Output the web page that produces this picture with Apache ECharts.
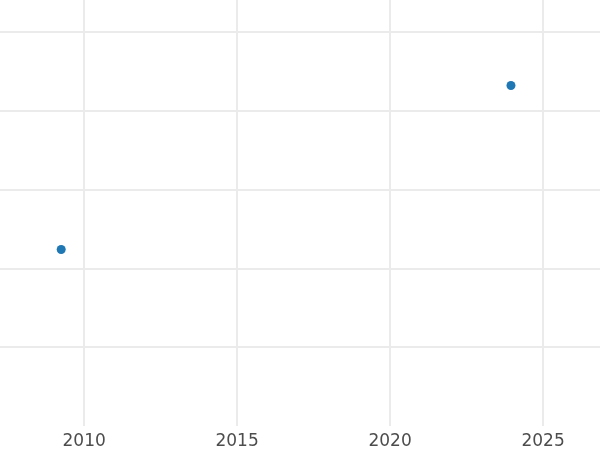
<!DOCTYPE html>
<html>
<head>
<meta charset="utf-8">
<script src="https://cdn.jsdelivr.net/npm/echarts@6/dist/echarts.min.js"></script>
<style>html,body{margin:0;padding:0;background:#fff}#c{width:600px;height:450px}</style>
</head>
<body>
<div id="c"></div>
<script>
const years = [2009.25, 2023.95];
const values = [2.24, 4.32];
const xTicks = [2010, 2015, 2020, 2025];
const yTicks = [1, 2, 3, 4, 5];

const chart = echarts.init(document.getElementById('c'), null, {renderer: 'canvas'});
chart.setOption({
  animation: false,
  backgroundColor: '#ffffff',
  grid: {left: 0, right: 0, top: 0, bottom: 23, containLabel: false},
  xAxis: {
    type: 'value', min: 2007.25, max: 2026.86,
    axisLine: {show: false},
    axisTick: {show: false, customValues: xTicks},
    axisLabel: {
      color: '#4d4d4d', fontSize: 17, fontFamily: 'DejaVu Sans', margin: 7,
      customValues: xTicks, formatter: v => String(v)
    },
    splitLine: {show: true, lineStyle: {color: '#ebebeb', width: 2}}
  },
  yAxis: {
    type: 'value', min: 0, max: 5.405,
    axisLine: {show: false},
    axisTick: {show: false, customValues: yTicks},
    axisLabel: {show: false, customValues: yTicks},
    splitLine: {show: true, lineStyle: {color: '#ebebeb', width: 2}}
  },
  series: [{
    type: 'scatter',
    data: years.map((y, i) => [y, values[i]]),
    symbolSize: 9,
    itemStyle: {color: '#1f77b4', opacity: 1}
  }]
});
</script>
</body>
</html>
